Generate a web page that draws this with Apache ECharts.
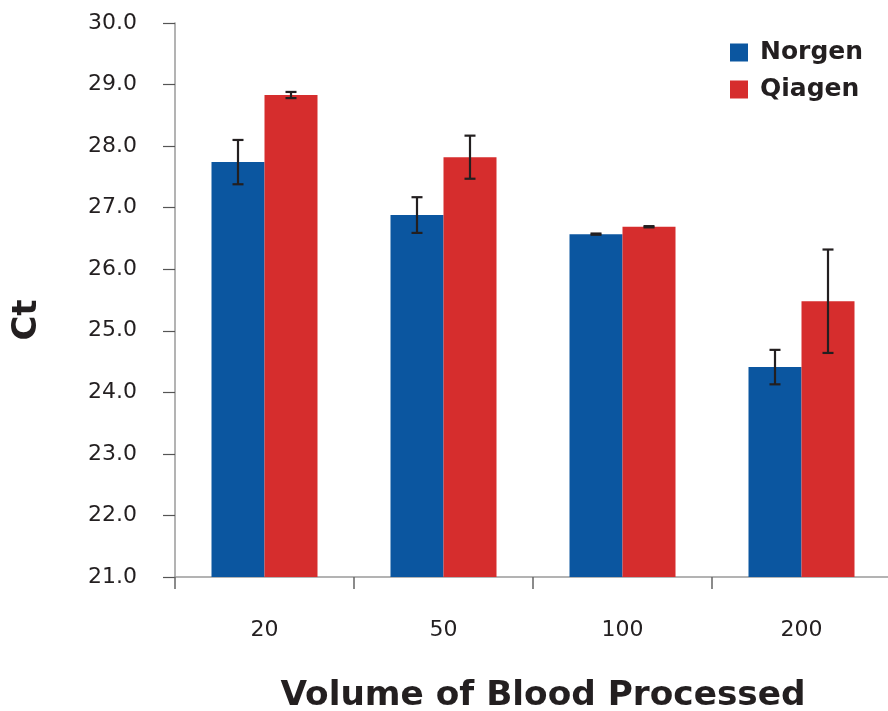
<!DOCTYPE html>
<html>
<head>
<meta charset="utf-8">
<script src="https://cdn.jsdelivr.net/npm/echarts@6/dist/echarts.min.js"></script>
<style>
html,body{margin:0;padding:0;background:#fff;overflow:hidden;}
#chart{width:888px;height:711px;}
</style>
</head>
<body>
<div id="chart"></div>
<script>
var categories = ['20', '50', '100', '200'];
var seriesNames = ['Norgen', 'Qiagen'];
var norgen = [27.74, 26.88, 26.57, 24.41];
var qiagen = [28.83, 27.82, 26.69, 25.48];
var norgenErr = [0.36, 0.29, 0.01, 0.28];
var qiagenErr = [0.05, 0.35, 0.01, 0.84];
var yTicks = { min: 21, max: 30, interval: 1 };

var FONT = 'DejaVu Sans';
var TEXT = '#231f20';
var BLUE = '#0b56a0';
var RED = '#d62d2d';
var BAR_W = 53;

function errorSeries(values, errs, side) {
  return {
    type: 'custom',
    silent: true,
    z: 10,
    data: values.map(function (v, i) { return [i, v - errs[i], v + errs[i]]; }),
    renderItem: function (params, api) {
      var idx = api.value(0);
      var lo = api.coord([idx, api.value(1)]);
      var hi = api.coord([idx, api.value(2)]);
      var x = lo[0] + side * BAR_W / 2;
      var cap = 5.5;
      var style = { stroke: '#231f20', lineWidth: 2.2 };
      return {
        type: 'group',
        children: [
          { type: 'line', shape: { x1: x, y1: hi[1], x2: x, y2: lo[1] }, style: style },
          { type: 'line', shape: { x1: x - cap, y1: hi[1], x2: x + cap, y2: hi[1] }, style: style },
          { type: 'line', shape: { x1: x - cap, y1: lo[1], x2: x + cap, y2: lo[1] }, style: style }
        ]
      };
    }
  };
}

var chart = echarts.init(document.getElementById('chart'), null, { renderer: 'canvas', width: 888, height: 711 });
chart.setOption({
  animation: false,
  backgroundColor: '#ffffff',
  textStyle: { fontFamily: FONT },
  grid: { left: 175, right: -3, top: 23, bottom: 134, containLabel: false, outerBoundsMode: 'none' },
  legend: {
    orient: 'vertical',
    left: 730,
    top: 40,
    padding: 0,
    icon: 'rect',
    itemWidth: 18,
    itemHeight: 18,
    itemGap: 12,
    data: seriesNames,
    textStyle: { fontFamily: FONT, fontWeight: 'bold', fontSize: 25, color: TEXT, padding: [0, 0, 0, 7] }
  },
  xAxis: {
    type: 'category',
    data: categories,
    name: 'Volume of Blood Processed',
    nameLocation: 'middle',
    nameGap: 102,
    nameTextStyle: { fontFamily: FONT, fontWeight: 'bold', fontSize: 34.3, color: TEXT, padding: [0, 0, 0, 20] },
    axisLine: { lineStyle: { color: '#9a9a9a', width: 1.5 } },
    axisTick: { show: true, length: 12, lineStyle: { color: '#666', width: 1.5 } },
    axisLabel: { fontFamily: FONT, fontSize: 22, color: TEXT, margin: 42 }
  },
  yAxis: {
    type: 'value',
    min: yTicks.min,
    max: yTicks.max,
    interval: yTicks.interval,
    name: 'Ct',
    nameLocation: 'middle',
    nameGap: 131,
    nameRotate: 90,
    nameTextStyle: { fontFamily: FONT, fontWeight: 'bold', fontSize: 34, color: TEXT, padding: [0, 40, 0, 0] },
    axisLine: { show: true, lineStyle: { color: '#9a9a9a', width: 1.5 } },
    axisTick: { show: true, length: 12, lineStyle: { color: '#555', width: 1.2 } },
    splitLine: { show: false },
    axisLabel: {
      fontFamily: FONT, fontSize: 22, color: TEXT, margin: 38,
      formatter: function (v) { return v.toFixed(1); }
    }
  },
  series: [
    { name: seriesNames[0], type: 'bar', data: norgen, barWidth: BAR_W, barGap: '0%', itemStyle: { color: BLUE } },
    { name: seriesNames[1], type: 'bar', data: qiagen, barWidth: BAR_W, barGap: '0%', itemStyle: { color: RED } },
    errorSeries(norgen, norgenErr, -1),
    errorSeries(qiagen, qiagenErr, 1)
  ]
});
</script>
</body>
</html>
